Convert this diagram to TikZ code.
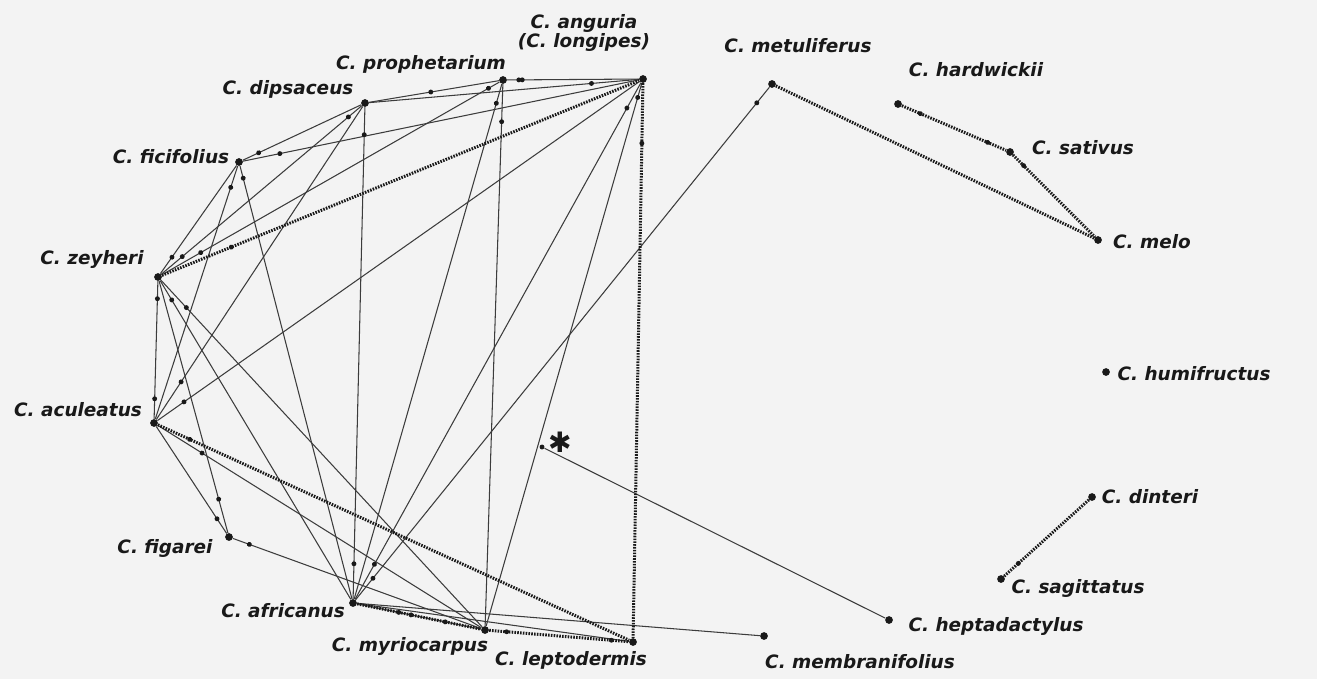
\documentclass[tikz,border=0pt]{standalone}
\usepackage{fontspec}
\newfontfamily\labfont{DejaVu Sans}
\usetikzlibrary{decorations.markings}

\definecolor{paper}{RGB}{243,243,243}
\definecolor{ink}{RGB}{25,25,25}

\tikzset{
  sp/.style={circle, fill=ink, inner sep=0pt, minimum size=4.4pt},
  lab/.style={font=\labfont\bfseries\itshape\fontsize{10.5}{11}\selectfont, inner sep=0pt, text=ink},
  ln/.style={draw=ink!85, line width=0.6pt},
  fert/.style={draw=ink, line width=1.7pt, dash pattern=on 0.9pt off 0.7pt},
  tip/.style={postaction={decorate, decoration={markings, mark=at position #1 with {\fill[ink] circle (1.4pt);}}}},
}

\begin{document}
\begin{tikzpicture}[x=0.02cm, y=-0.02cm]
      \fill[paper] (0,0) rectangle (1317,679);
      \useasboundingbox (0,0) rectangle (1317,679);
      % species
      \node[sp] (an) at (643,79) {};
      \node[sp] (pr) at (503,80) {};
      \node[sp] (di) at (365,103) {};
      \node[sp] (fi) at (239,162) {};
      \node[sp] (ze) at (158,277) {};
      \node[sp] (ac) at (154,423) {};
      \node[sp] (fg) at (229,537) {};
      \node[sp] (af) at (353,603) {};
      \node[sp] (my) at (485,630) {};
      \node[sp] (le) at (633,642) {};
      \node[sp, minimum size=2.8pt] (st) at (542,447) {};
      \node[sp] (me) at (772,84) {};
      \node[sp] (ha) at (898,104) {};
      \node[sp] (sa) at (1010,152) {};
      \node[sp] (mo) at (1098,240) {};
      \node[sp] (hu) at (1106,372) {};
      \node[sp] (dt) at (1092,497) {};
      \node[sp] (sg) at (1001,579) {};
      \node[sp] (he) at (889,620) {};
      \node[sp] (mb) at (764,636) {};
      % names
      \node[lab, align=center] (an-l) at (584,33) {C. anguria\\(C. longipes)};
      \node[lab] (pr-l) at (421,64) {C. prophetarium};
      \node[lab] (di-l) at (288,89) {C. dipsaceus};
      \node[lab] (fi-l) at (171,157) {C. ficifolius};
      \node[lab] (ze-l) at (92,259) {C. zeyheri};
      \node[lab] (ac-l) at (78,410) {C. aculeatus};
      \node[lab] (fg-l) at (165,548) {C. figarei};
      \node[lab] (af-l) at (283,611) {C. africanus};
      \node[lab] (my-l) at (410,646) {C. myriocarpus};
      \node[lab] (le-l) at (571,660) {C. leptodermis};
      \node[lab] (me-l) at (798,46) {C. metuliferus};
      \node[lab] (ha-l) at (976,70) {C. hardwickii};
      \node[lab] (sa-l) at (1083,148) {C. sativus};
      \node[lab] (mo-l) at (1152,242) {C. melo};
      \node[lab] (hu-l) at (1194,374) {C. humifructus};
      \node[lab] (dt-l) at (1150,497) {C. dinteri};
      \node[lab] (sg-l) at (1078,588) {C. sagittatus};
      \node[lab] (he-l) at (996,626) {C. heptadactylus};
      \node[lab] (mb-l) at (860,662) {C. membranifolius};
      \node[lab, font=\labfont\bfseries\fontsize{16}{16}\selectfont] (ast) at (560,442) {✱};
      % crosses
      \draw[ln, tip=0.4cm] (ze) -- (fi);
      \draw[ln, tip=0.55cm, tip=-0.35cm] (ze) -- (di);
      \draw[ln, tip=0.9cm, tip=-0.25cm] (ze) -- (pr);
      \draw[ln, tip=0.35cm, tip=-0.4cm] (ze) -- (ac);
      \draw[ln, tip=-0.7cm] (ze) -- (fg);
      \draw[ln, tip=0.45cm] (ze) -- (af);
      \draw[ln, tip=0.75cm] (ze) -- (my);
      \draw[ln, tip=0.35cm] (fi) -- (di);
      \draw[ln, tip=0.75cm] (fi) -- (an);
      \draw[ln, tip=0.45cm] (fi) -- (ac);
      \draw[ln, tip=0.25cm] (fi) -- (af);
      \draw[ln, tip=1.25cm] (di) -- (pr);
      \draw[ln, tip=-0.95cm] (di) -- (an);
      \draw[ln, tip=-0.9cm] (di) -- (ac);
      \draw[ln, tip=0.55cm, tip=-0.7cm] (di) -- (af);
      \draw[ln, tip=0.3cm, tip=-2.4cm] (pr) -- (an);
      \draw[ln, tip=0.4cm] (pr) -- (af);
      \draw[ln, tip=0.75cm] (pr) -- (my);
      \draw[ln, tip=-0.65cm] (an) -- (ac);
      \draw[ln, tip=0.58cm, tip=-0.8cm] (an) -- (af);
      \draw[ln, tip=0.3cm] (an) -- (my);
      \draw[ln, tip=0.4cm, tip=-0.55cm] (me) -- (af);
      \draw[ln, tip=-0.35cm] (ac) -- (fg);
      \draw[ln, tip=1.05cm] (ac) -- (my);
      \draw[ln, tip=0.35cm] (fg) -- (my);
      \draw[ln, tip=1.1cm] (af) -- (my);
      \draw[ln] (af) -- (le);
      \draw[ln] (af) -- (mb);
      \draw[ln] (he) -- (st);
      % fertile hybrids
      \draw[fert, tip=1.5cm] (ze) -- (an);
      \draw[fert, tip=0.7cm] (ac) -- (le);
      \draw[fert, tip=1.2cm] (an) -- (le);
      \draw[fert, tip=0.85cm, tip=1.8cm] (af) -- (my);
      \draw[fert, tip=0.35cm, tip=-0.35cm] (my) -- (le);
      \draw[fert] (me) -- (mo);
      \draw[fert, tip=0.4cm, tip=-0.4cm] (ha) -- (sa);
      \draw[fert, tip=0.3cm] (sa) -- (mo);
      \draw[fert, tip=-0.38cm] (dt) -- (sg);
    \end{tikzpicture}
\end{document}
